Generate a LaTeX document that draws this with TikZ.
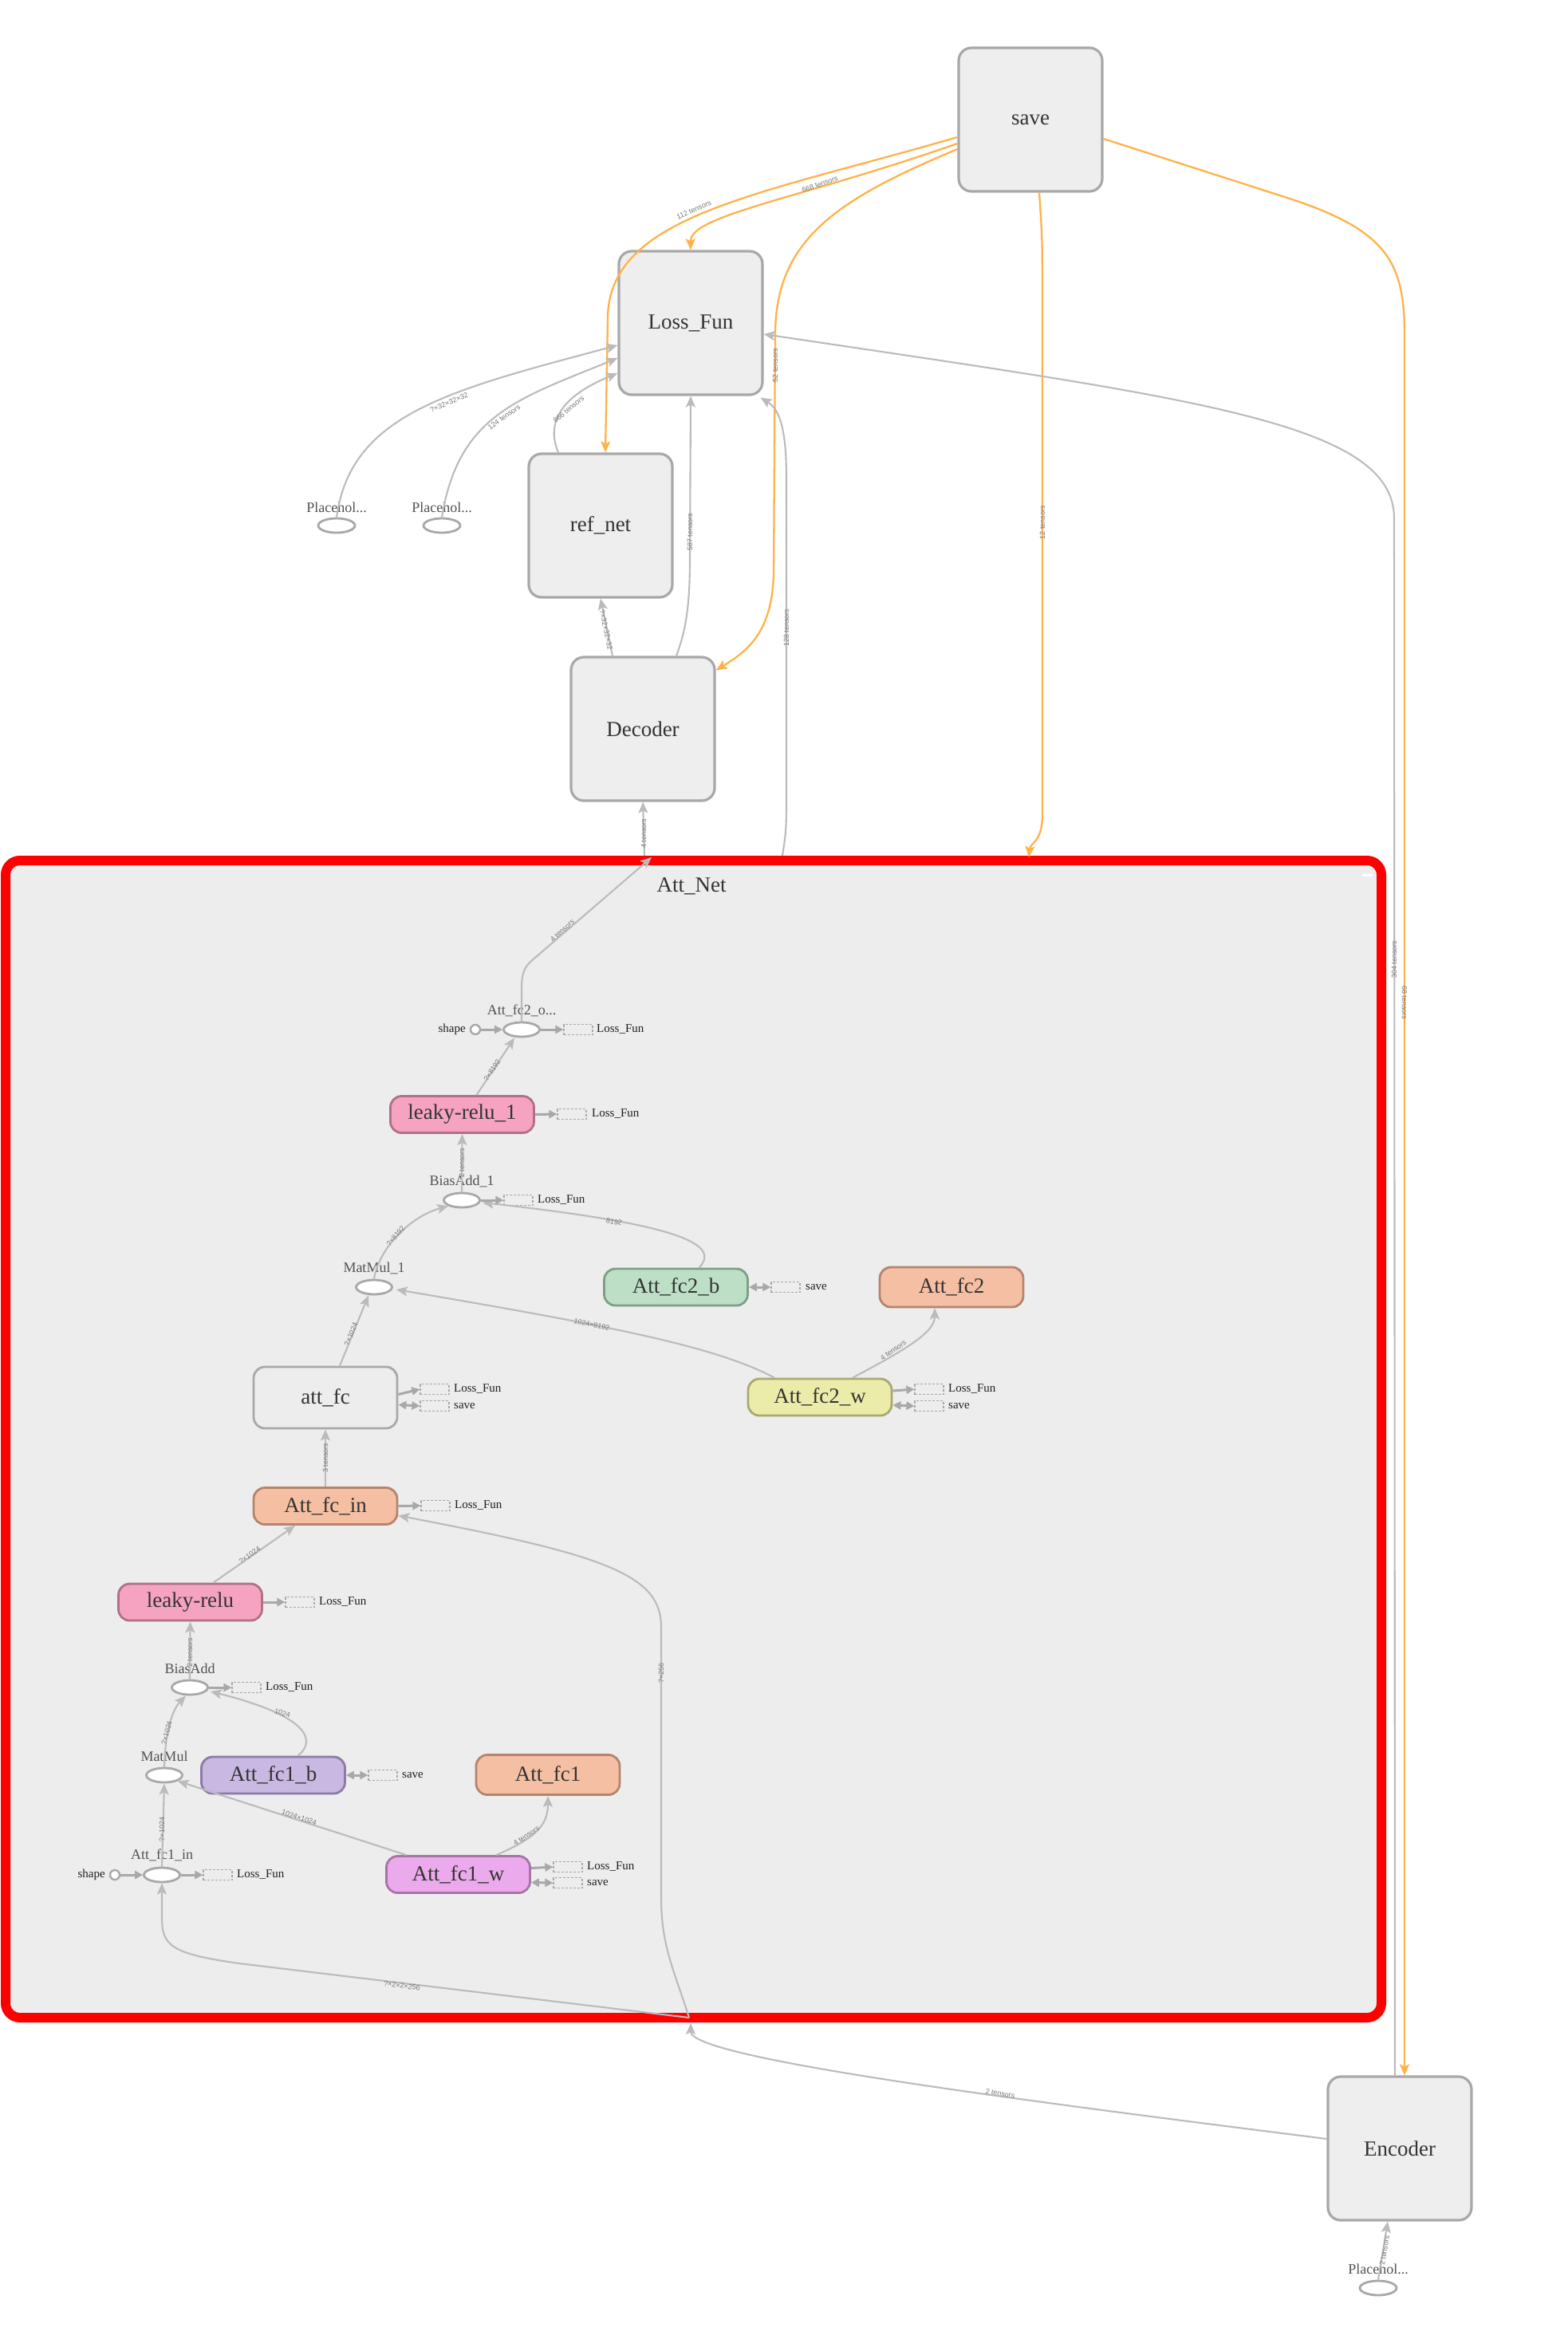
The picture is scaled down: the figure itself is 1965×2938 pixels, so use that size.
\documentclass[tikz,border=0pt]{standalone}
\usepackage{fontspec}
\setmainfont{Liberation Serif}
\newfontfamily\edgefont{Liberation Sans}
\usetikzlibrary{shapes.geometric,arrows.meta,calc}

\definecolor{edgegray}{HTML}{BBBBBB}
\definecolor{saveorange}{HTML}{FFB24A}
\definecolor{boxfill}{HTML}{EEEEEE}
\definecolor{boxline}{HTML}{A8A8A8}
\definecolor{inktext}{HTML}{333333}
\definecolor{labelgray}{HTML}{777777}
\definecolor{clusterfill}{HTML}{EDEDED}
\definecolor{reluF}{HTML}{F5A3C0}\definecolor{reluD}{HTML}{AE7187}
\definecolor{greenF}{HTML}{BDDFC6}\definecolor{greenD}{HTML}{7F9E87}
\definecolor{salmonF}{HTML}{F5BFA3}\definecolor{salmonD}{HTML}{B4846E}
\definecolor{yellowF}{HTML}{ECECAA}\definecolor{yellowD}{HTML}{A9A872}
\definecolor{lavF}{HTML}{C8B8E2}\definecolor{lavD}{HTML}{8D7BA6}
\definecolor{violetF}{HTML}{EBAAEB}\definecolor{violetD}{HTML}{A774A6}

\tikzset{
  meta/.style={rectangle, rounded corners=16pt, fill=boxfill, draw=boxline,
    line width=3.2pt, minimum width=180pt, minimum height=180pt, inner sep=0pt,
    font=\fontsize{27}{30}\selectfont, text=inktext},
  cluster/.style={rectangle, rounded corners=18pt, fill=clusterfill, draw=red,
    line width=12pt, minimum width=1725pt, minimum height=1451pt, inner sep=0pt},
  clustertitle/.style={font=\fontsize{27}{30}\selectfont, text=inktext, inner sep=0pt},
  opbox/.style={rectangle, rounded corners=14pt, line width=2.8pt,
    minimum width=180pt, minimum height=46pt, inner sep=0pt,
    font=\fontsize{27}{30}\selectfont, text=inktext},
  opnode/.style={ellipse, fill=white, draw=boxline, line width=2.8pt,
    minimum width=45pt, minimum height=18pt, inner sep=0pt},
  phnode/.style={ellipse, fill=white, draw=boxline, line width=2.8pt,
    minimum width=46pt, minimum height=18pt, inner sep=0pt},
  shapenode/.style={circle, fill=white, draw=boxline, line width=2.4pt,
    minimum size=12pt, inner sep=0pt},
  opname/.style={font=\fontsize{18}{20}\selectfont, text=inktext!85, inner sep=0pt},
  auxbox/.style={rectangle, draw=boxline, dash pattern=on 3pt off 2pt,
    line width=1.2pt, minimum width=36pt, minimum height=13pt, inner sep=0pt},
  auxtext/.style={font=\fontsize{15}{17}\selectfont, text=black!88, anchor=west, inner sep=0pt},
  gedge/.style={draw=edgegray, line width=2.1pt,
    -{Stealth[length=14pt, width=12pt, inset=3pt]}},
  oedge/.style={draw=saveorange, line width=2.3pt,
    -{Stealth[length=14pt, width=12pt, inset=3pt]}},
  auxin/.style={draw=boxline, line width=3pt,
    -{Triangle[length=10pt, width=10pt]}},
  auxboth/.style={draw=boxline, line width=3pt,
    {Triangle[length=10pt, width=10pt]}-{Triangle[length=10pt, width=10pt]}},
  elabel/.style={font=\edgefont\fontsize{9}{10}\selectfont, text=labelgray, inner sep=0pt},
}

\begin{document}
\begin{tikzpicture}[x=1pt, y=-1pt]
\useasboundingbox (0,0) rectangle (1965,2938);
\fill[white] (0,0) rectangle (1965,2938);

% ---------- the Att_Net group ----------
\node[cluster] (attnet) at (869.5,1804.5) {};
\node[clustertitle] (attnettitle) at (867,1111) {Att\_Net};
\node[fill=white, minimum width=13pt, minimum height=3pt, inner sep=0pt] (collapse) at (1714,1097) {};

% ports where edges cross the group border
\coordinate (portDecIn)  at (817,1075);
\coordinate (portDecOut) at (808,1073);
\coordinate (port128)    at (981,1073);
\coordinate (port12)     at (1290,1075);
\coordinate (portEnc)    at (866,2537);
\coordinate (portEncIn)  at (864,2530);

% ---------- top level nodes ----------
\node[meta] (save)    at (1292,150) {save};
\node[meta] (lossfun) at (866,405)  {Loss\_Fun};
\node[meta] (refnet)  at (753,659)  {ref\_net};
\node[meta] (decoder) at (806,914)  {Decoder};
\node[meta] (encoder) at (1755,2694) {Encoder};

\node[phnode] (ph1) at (422,659) {};
\node[opname] (ph1name) at (422,636) {Placehol...};
\node[phnode] (ph2) at (554,659) {};
\node[opname] (ph2name) at (554,636) {Placehol...};
\node[phnode] (ph3) at (1728,2869) {};
\node[opname] (ph3name) at (1728,2845) {Placehol...};

% ---------- nodes inside Att_Net ----------
\node[opnode] (fc2o) at (654,1291) {};
\node[opname] (fc2oname) at (654,1267) {Att\_fc2\_o...};
\node[shapenode] (shp2) at (596,1291) {};
\node[auxtext, anchor=east] (shp2name) at (584,1291) {shape};
\node[auxbox] (fc2oaux) at (725,1291) {};
\node[auxtext] (fc2oauxt) at (748,1291) {Loss\_Fun};

\node[opbox, fill=reluF, draw=reluD] (lr1) at (579.5,1397.5) {leaky-relu\_1};
\node[auxbox] (lr1aux) at (717,1397) {};
\node[auxtext] (lr1auxt) at (742,1397) {Loss\_Fun};

\node[opnode] (ba1) at (579,1505) {};
\node[opname] (ba1name) at (579,1481) {BiasAdd\_1};
\node[auxbox] (ba1aux) at (650,1505) {};
\node[auxtext] (ba1auxt) at (674,1505) {Loss\_Fun};

\node[opnode] (mm1) at (469,1614) {};
\node[opname] (mm1name) at (469,1590) {MatMul\_1};

\node[opbox, fill=greenF, draw=greenD] (fc2b) at (847.5,1614) {Att\_fc2\_b};
\node[auxbox] (fc2baux) at (985,1614) {};
\node[auxtext] (fc2bauxt) at (1010,1614) {save};

\node[opbox, fill=salmonF, draw=salmonD, minimum height=50pt] (fc2) at (1193,1614) {Att\_fc2};

\node[opbox, fill=clusterfill, draw=boxline, minimum height=77pt] (attfc) at (408,1752.5) {att\_fc};
\node[auxbox] (attfcaux1) at (545,1742) {};
\node[auxtext] (attfcaux1t) at (569,1742) {Loss\_Fun};
\node[auxbox] (attfcaux2) at (545,1763) {};
\node[auxtext] (attfcaux2t) at (569,1763) {save};

\node[opbox, fill=yellowF, draw=yellowD] (fc2w) at (1028,1752) {Att\_fc2\_w};
\node[auxbox] (fc2waux1) at (1165,1742) {};
\node[auxtext] (fc2waux1t) at (1189,1742) {Loss\_Fun};
\node[auxbox] (fc2waux2) at (1165,1763) {};
\node[auxtext] (fc2waux2t) at (1189,1763) {save};

\node[opbox, fill=salmonF, draw=salmonD] (fcin) at (408,1888.5) {Att\_fc\_in};
\node[auxbox] (fcinaux) at (546,1888) {};
\node[auxtext] (fcinauxt) at (570,1888) {Loss\_Fun};

\node[opbox, fill=reluF, draw=reluD] (lr) at (238.5,2009) {leaky-relu};
\node[auxbox] (lraux) at (376,2009) {};
\node[auxtext] (lrauxt) at (400,2009) {Loss\_Fun};

\node[opnode] (ba) at (238,2116) {};
\node[opname] (baname) at (238,2092) {BiasAdd};
\node[auxbox] (baaux) at (309,2116) {};
\node[auxtext] (baauxt) at (333,2116) {Loss\_Fun};

\node[opnode] (mm) at (206,2226) {};
\node[opname] (mmname) at (206,2202) {MatMul};

\node[opbox, fill=lavF, draw=lavD] (fc1b) at (342.5,2226) {Att\_fc1\_b};
\node[auxbox] (fc1baux) at (480,2226) {};
\node[auxtext] (fc1bauxt) at (504,2226) {save};

\node[opbox, fill=salmonF, draw=salmonD, minimum height=50pt] (fc1) at (687,2225.5) {Att\_fc1};

\node[opnode] (fc1in) at (203,2351) {};
\node[opname] (fc1inname) at (203,2326) {Att\_fc1\_in};
\node[shapenode] (shp1) at (144,2351) {};
\node[auxtext, anchor=east] (shp1name) at (132,2351) {shape};
\node[auxbox] (fc1inaux) at (273,2351) {};
\node[auxtext] (fc1inauxt) at (297,2351) {Loss\_Fun};

\node[opbox, fill=violetF, draw=violetD] (fc1w) at (574.5,2350.5) {Att\_fc1\_w};
\node[auxbox] (fc1waux1) at (712,2341) {};
\node[auxtext] (fc1waux1t) at (736,2341) {Loss\_Fun};
\node[auxbox] (fc1waux2) at (712,2361) {};
\node[auxtext] (fc1waux2t) at (736,2361) {save};

% ---------- edges from save ----------
\draw[oedge] ([yshift=-22pt]save.west) .. controls (950,245) and (762,270) .. (762,400) -- ([xshift=6pt]refnet.north);
\draw[oedge] ([yshift=-30pt]save.west) .. controls (1000,250) and (865,270) .. (lossfun.north);
\draw[oedge] ([yshift=-37pt]save.west) .. controls (1050,250) and (972,300) .. (972,420)
  -- (970,720) .. controls (968,790) and (940,815) .. ([yshift=-18pt]decoder.north east);
\draw[oedge] ([xshift=11pt]save.south) .. controls (1307,300) .. (1307,400)
  -- (1307,1020) .. controls (1307,1058) and (1292,1055) .. (port12);
\draw[oedge] ([yshift=-24pt]save.east) -- (1620,250) .. controls (1740,290) and (1761,330) .. (1761,420)
  -- ([xshift=6pt]encoder.north);

\node[elabel, rotate=24] (l112) at (870,263) {112 tensors};
\node[elabel, rotate=20] (l668) at (1028,231) {668 tensors};
\node[elabel, rotate=90] (l52) at (972,458) {52 tensors};
\node[elabel, rotate=90] (l12) at (1307,655) {12 tensors};
\node[elabel, rotate=-90] (l68) at (1761,1257) {68 tensors};

% ---------- gray edges at top level ----------
\draw[gedge] (ph1.north) .. controls (440,520) and (560,490) .. ([yshift=-28pt]lossfun.west);
\draw[gedge] (ph2.north) .. controls (575,520) and (650,500) .. ([yshift=-44pt]lossfun.west);
\draw[gedge] ([xshift=-53pt]refnet.north) .. controls (680,520) and (720,490) .. ([yshift=-63pt]lossfun.west);
\draw[gedge] ([xshift=-38pt]decoder.north) -- (refnet.south);
\draw[gedge] ([xshift=42pt]decoder.north) .. controls (860,790) and (865,760) .. (865,700) -- (lossfun.south);
\draw[gedge] (port128) .. controls (986,1040) .. (986,990) -- (986,600)
  .. controls (986,530) and (975,512) .. ([xshift=-4pt,yshift=-2pt]lossfun.south east);
\draw[gedge] ([xshift=-6pt]encoder.north) -- (1748,650) .. controls (1748,530) and (1500,500) .. ([yshift=-14pt]lossfun.east);
\draw[gedge] (portDecOut) -- (decoder.south);
\draw[gedge] ([yshift=12pt]encoder.west) .. controls (1250,2630) and (866,2580) .. (portEnc);
\draw[gedge] (ph3.north) -- ([xshift=-15pt]encoder.south);

\node[elabel, rotate=23] (lph1) at (563,505) {?×32×32×32};
\node[elabel, rotate=35] (lph2) at (632,523) {124 tensors};
\node[elabel, rotate=40] (lref) at (713,513) {866 tensors};
\node[elabel, rotate=-78] (ldecref) at (760,790) {?×32×32×32};
\node[elabel, rotate=90] (l587) at (865,667) {587 tensors};
\node[elabel, rotate=90] (l128) at (986,787) {128 tensors};
\node[elabel, rotate=90] (l304) at (1748,1203) {304 tensors};
\node[elabel, rotate=90] (ldec4) at (807,1045) {4 tensors};
\node[elabel, rotate=-9] (lenc2) at (1254,2625) {2 tensors};
\node[elabel, rotate=80] (lph3) at (1736,2822) {2 tensors};

% ---------- edges inside Att_Net ----------
\draw[gedge] (fc2o.north) -- (654,1240) .. controls (654,1215) and (660,1210) .. (672,1200) -- (portDecIn);
\draw[gedge] ([xshift=18pt]lr1.north) -- ([xshift=-9pt]fc2o.south);
\draw[gedge] (ba1.north) -- (lr1.south);
\draw[gedge] (mm1.north) .. controls (475,1565) and (515,1525) .. (ba1.south west);
\draw[gedge] ([xshift=29pt]fc2b.north) .. controls (905,1560) and (850,1535) .. ([xshift=2pt,yshift=-3pt]ba1.east);
\draw[gedge] ([xshift=18pt]attfc.north) -- ([xshift=-7pt]mm1.south);
\draw[gedge] ([xshift=-57pt]fc2w.north) .. controls (900,1690) and (780,1665) .. ([xshift=4pt,yshift=-3pt]mm1.east);
\draw[gedge] ([xshift=41pt]fc2w.north) .. controls (1140,1690) and (1172,1670) .. ([xshift=-21pt]fc2.south);
\draw[gedge] (fcin.north) -- (attfc.south);
\draw[gedge] ([xshift=29pt]lr.north) -- ([xshift=-38pt]fcin.south);
\draw[gedge] (ba.north) -- (lr.south);
\draw[gedge] (mm.north) .. controls (207,2175) and (215,2145) .. ([xshift=-5pt]ba.south);
\draw[gedge] ([xshift=31pt]fc1b.north) .. controls (400,2180) and (380,2150) .. ([xshift=2pt,yshift=-5pt]ba.east);
\draw[gedge] ([xshift=-65pt]fc1w.north) -- (mm.south east);
\draw[gedge] ([xshift=48pt]fc1w.north) .. controls (670,2305) and (687,2290) .. (fc1.south);
\draw[gedge] (fc1in.north) -- (mm.south);
\draw[gedge] (portEncIn) -- (300,2462) .. controls (215,2450) and (203,2440) .. (203,2405) -- (fc1in.south);
\draw[gedge] (portEncIn) .. controls (845,2470) and (829,2440) .. (829,2380) -- (829,2040)
  .. controls (829,1975) and (760,1950) .. ([yshift=-12pt]fcin.east);

\node[elabel, rotate=42] (lin4) at (705,1167) {4 tensors};
\node[elabel, rotate=56] (llr1) at (617,1342) {?×8192};
\node[elabel, rotate=90] (lba1) at (579,1458) {2 tensors};
\node[elabel, rotate=-9] (l8192) at (770,1532) {8192};
\node[elabel, rotate=50] (lmm1) at (496,1550) {?×8192};
\node[elabel, rotate=68] (lattfc) at (440,1673) {?×1024};
\node[elabel, rotate=-11] (lfc2w) at (742,1661) {1024×8192};
\node[elabel, rotate=35] (lfc2w4) at (1120,1693) {4 tensors};
\node[elabel, rotate=90] (lfcin) at (408,1828) {3 tensors};
\node[elabel, rotate=35] (llr) at (313,1950) {?×1024};
\node[elabel, rotate=90] (lba) at (238,2072) {2 tensors};
\node[elabel, rotate=75] (lmm) at (209,2173) {?×1024};
\node[elabel, rotate=-15] (l1024) at (354,2148) {1024};
\node[elabel, rotate=-18] (lfc1w) at (375,2279) {1024×1024};
\node[elabel, rotate=34] (lfc1w4) at (660,2302) {4 tensors};
\node[elabel, rotate=90] (lfc1in) at (203,2294) {?×1024};
\node[elabel, rotate=-7] (lenc256) at (504,2490) {?×2×2×256};
\node[elabel, rotate=90] (lencfc) at (829,2098) {?×256};

% ---------- control and auxiliary links ----------
\draw[auxin] (shp2.east) -- (fc2o.west);
\draw[auxin] (fc2o.east) -- (fc2oaux.west);
\draw[auxin] (lr1.east) -- (lr1aux.west);
\draw[auxin] (ba1.east) -- (ba1aux.west);
\draw[auxboth] (fc2b.east) -- (fc2baux.west);
\draw[auxin] ([yshift=4pt]attfc.east) -- (attfcaux1.west);
\draw[auxboth] ([yshift=-9pt]attfc.east) -- (attfcaux2.west);
\draw[auxin] ([yshift=8pt]fc2w.east) -- (fc2waux1.west);
\draw[auxboth] ([yshift=-10pt]fc2w.east) -- (fc2waux2.west);
\draw[auxin] (fcin.east) -- (fcinaux.west);
\draw[auxin] (lr.east) -- (lraux.west);
\draw[auxin] (ba.east) -- (baaux.west);
\draw[auxboth] (fc1b.east) -- (fc1baux.west);
\draw[auxin] (shp1.east) -- (fc1in.west);
\draw[auxin] (fc1in.east) -- (fc1inaux.west);
\draw[auxin] ([yshift=8pt]fc1w.east) -- (fc1waux1.west);
\draw[auxboth] ([yshift=-10pt]fc1w.east) -- (fc1waux2.west);
\end{tikzpicture}
\end{document}
